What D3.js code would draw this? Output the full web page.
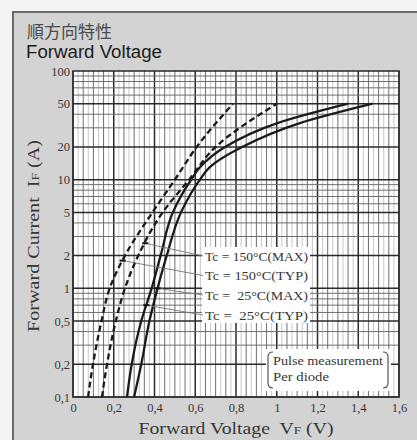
<!DOCTYPE html>
<html><head><meta charset="utf-8">
<script src="https://cdn.jsdelivr.net/npm/d3@7"></script>
<style>html,body{margin:0;padding:0;background:#f4f4f4;} svg{display:block}</style>
</head><body>
<svg id="chart" width="417" height="440"></svg>
<script>
// Axis ticks
const xTicks = [0, 0.2, 0.4, 0.6, 0.8, 1, 1.2, 1.4, 1.6];
const yTicks = [0.1, 0.2, 0.5, 1, 2, 5, 10, 20, 50, 100];

// Forward characteristics: VF (V) against IF (A)
const ifPoints    = [0.1, 0.2, 0.5, 1, 2, 5, 10, 20, 50];
const vf150Typ    = [0.074, 0.098, 0.14, 0.18, 0.255, 0.39, 0.50, 0.607, 0.785];
const vf150Max    = [0.142, 0.167, 0.21, 0.255, 0.32, 0.44, 0.57, 0.70, 1.00];
const ifPoints25  = [0.1, 0.2, 0.5, 1, 2, 5, 10, 13, 20, 33, 50];
const vf25Typ     = [0.265, 0.288, 0.335, 0.386, 0.43, 0.49, 0.58, 0.623, 0.746, 1.00, 1.35];
const vf25Max     = [0.30, 0.335, 0.375, 0.415, 0.46, 0.53, 0.623, 0.67, 0.83, 1.11, 1.47];

const seriesLabels = ["Tc = 150\u00b0C(MAX)", "Tc = 150\u00b0C(TYP)", "Tc =  25\u00b0C(MAX)", "Tc =  25\u00b0C(TYP)"];
const labelMarkCurrents = [2.6, 1.8, 1.0, 0.7];
const noteLines = ["Pulse measurement", "Per diode"];

const series = [
  {name: seriesLabels[0], v: vf150Max, i: ifPoints,   dash: "6,3.5"},
  {name: seriesLabels[1], v: vf150Typ, i: ifPoints,   dash: "6,3.5"},
  {name: seriesLabels[2], v: vf25Max,  i: ifPoints25, dash: null},
  {name: seriesLabels[3], v: vf25Typ,  i: ifPoints25, dash: null}
];

const svg = d3.select("#chart");
const fmt = d => String(d).replace(".", ",");
const serif = "'Liberation Serif', 'Times New Roman', serif";
const ink = "#363636";

// Panel
svg.append("rect").attr("x", 13).attr("y", 12).attr("width", 420).attr("height", 450)
  .attr("fill", "#d3d3d3").attr("stroke", "#6a6a6a").attr("stroke-width", 2);

svg.append("text").attr("x", 27).attr("y", 38).text("順方向特性")
  .attr("font-family", "'Noto Sans CJK JP'").attr("font-size", 17).attr("fill", "#4a4a4a");
svg.append("text").attr("x", 26).attr("y", 58).text("Forward Voltage")
  .attr("font-family", "'Liberation Sans', Arial").attr("font-size", 17.5).attr("fill", "#1c1c1c")
  .attr("textLength", 136).attr("lengthAdjust", "spacingAndGlyphs");

const x = d3.scaleLinear().domain([0, 1.6]).range([73, 399]);
const y = d3.scaleLog().domain([0.1, 100]).range([397, 71]);

// Plot background
svg.append("rect").attr("x", x(0)).attr("y", y(100)).attr("width", x(1.6) - x(0)).attr("height", y(0.1) - y(100))
  .attr("fill", "#fff");

const grid = svg.append("g");
// Faint lines between the 0.05 V rulings
d3.range(0, 32).forEach(k => {
  const v = k * 0.05 + 0.025;
  grid.append("line").attr("x1", x(v)).attr("x2", x(v)).attr("y1", y(100)).attr("y2", y(0.1))
    .attr("stroke", "#c8c8c8").attr("stroke-width", 1);
});
// Vertical grid every 0.05 V, heavier every 0.2 V
d3.range(0, 33).forEach(k => {
  const v = k * 0.05;
  const major = k % 4 === 0;
  grid.append("line").attr("x1", x(v)).attr("x2", x(v)).attr("y1", y(100)).attr("y2", y(0.1))
    .attr("stroke", major ? "#2a2a2a" : "#6e6e6e").attr("stroke-width", major ? 1.5 : 1);
});
// Horizontal log grid
[0.1, 1, 10].forEach(dec => {
  d3.range(1, 10).forEach(m => {
    const val = dec * m;
    const major = m === 1 || m === 2 || m === 5;
    grid.append("line").attr("x1", x(0)).attr("x2", x(1.6)).attr("y1", y(val)).attr("y2", y(val))
      .attr("stroke", major ? "#2a2a2a" : "#6e6e6e").attr("stroke-width", major ? 1.5 : 1);
  });
});

// Plot frame
svg.append("rect").attr("x", x(0)).attr("y", y(100)).attr("width", x(1.6) - x(0)).attr("height", y(0.1) - y(100))
  .attr("fill", "none").attr("stroke", "#333").attr("stroke-width", 1.6);

// Axes (labels only)
const xAxis = d3.axisBottom(x).tickValues(xTicks).tickSize(0).tickPadding(6).tickFormat(fmt);
const gx = svg.append("g").attr("transform", `translate(0,${y(0.1)})`).call(xAxis);
const yAxis = d3.axisLeft(y).tickValues(yTicks).tickSize(0).tickPadding(3).tickFormat(fmt);
const gy = svg.append("g").attr("transform", `translate(${x(0)},0)`).call(yAxis);
[gx, gy].forEach(g => {
  g.select(".domain").remove();
  g.selectAll("text").attr("font-family", serif).attr("font-size", 12.5).attr("fill", ink);
});

// Curves
const line = d3.line().x(d => x(d[0])).y(d => y(d[1])).curve(d3.curveMonotoneY);
series.forEach(s => {
  const pts = s.v.map((v, k) => [v, s.i[k]]);
  svg.append("path").attr("d", line(pts)).attr("fill", "none").attr("stroke", "#1a1a1a")
    .attr("stroke-width", 2.3).attr("stroke-dasharray", s.dash);
});

// Voltage of a curve at a given current (interpolated on log current)
function vAt(s, cur) {
  const li = s.i.map(Math.log10), t = Math.log10(cur);
  for (let k = 0; k < li.length - 1; k++) {
    if (t >= li[k] && t <= li[k + 1]) {
      const f = (t - li[k]) / (li[k + 1] - li[k]);
      return s.v[k] + f * (s.v[k + 1] - s.v[k]);
    }
  }
  return s.v[0];
}

// Curve labels on a white plate with leaders
svg.append("rect").attr("x", 202).attr("y", 247).attr("width", 108).attr("height", 76).attr("fill", "#fff");
const labelY = [256, 275.5, 295, 315];
series.forEach((s, k) => {
  const px = x(vAt(s, labelMarkCurrents[k])), py = y(labelMarkCurrents[k]);
  svg.append("line").attr("x1", px).attr("y1", py).attr("x2", 203).attr("y2", labelY[k])
    .attr("stroke", "#777").attr("stroke-width", 0.9);
  svg.append("line").attr("x1", px - 3).attr("x2", px + 3).attr("y1", py).attr("y2", py)
    .attr("stroke", "#111").attr("stroke-width", 2);
  svg.append("text").attr("x", 205).attr("y", labelY[k] + 4.5).text(s.name)
    .attr("font-family", serif).attr("font-size", 13.5).attr("fill", ink)
    .attr("textLength", 103).attr("lengthAdjust", "spacingAndGlyphs")
    .style("white-space", "pre");
});

// Measurement note
svg.append("rect").attr("x", 266).attr("y", 349).attr("width", 125).attr("height", 42).attr("fill", "#fff");
svg.append("path").attr("d", "M273,352 Q268,352 268,357 L268,383 Q268,388 273,388")
  .attr("fill", "none").attr("stroke", "#555").attr("stroke-width", 1.2);
svg.append("path").attr("d", "M383,352 Q388,352 388,357 L388,383 Q388,388 383,388")
  .attr("fill", "none").attr("stroke", "#555").attr("stroke-width", 1.2);
noteLines.forEach((t, k) => {
  svg.append("text").attr("x", 273).attr("y", 365 + k * 16).text(t)
    .attr("font-family", serif).attr("font-size", 13.5).attr("fill", ink)
    .attr("textLength", k === 0 ? 110 : 56).attr("lengthAdjust", "spacingAndGlyphs");
});

// Axis titles
const xt = svg.append("text").attr("x", 236).attr("y", 434).attr("text-anchor", "middle")
  .attr("font-family", serif).attr("font-size", 16.5).attr("fill", ink)
  .attr("textLength", 195).attr("lengthAdjust", "spacingAndGlyphs")
  .style("white-space", "pre");
xt.append("tspan").text("Forward Voltage  V");
xt.append("tspan").attr("font-size", 11).text("F");
xt.append("tspan").text(" (V)");

const yt = svg.append("text").attr("transform", "translate(39,236) rotate(-90)").attr("text-anchor", "middle")
  .attr("font-family", serif).attr("font-size", 16.5).attr("fill", ink)
  .attr("textLength", 192).attr("lengthAdjust", "spacingAndGlyphs")
  .style("white-space", "pre");
yt.append("tspan").text("Forward Current  I");
yt.append("tspan").attr("font-size", 11).text("F");
yt.append("tspan").text(" (A)");
</script>
</body></html>
